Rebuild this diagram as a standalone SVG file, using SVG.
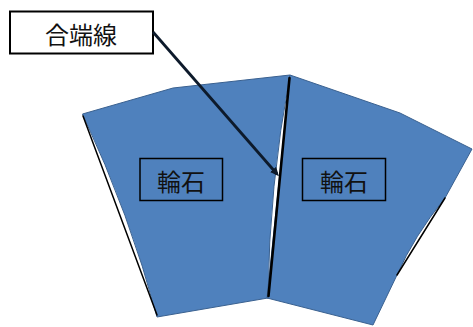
<svg xmlns="http://www.w3.org/2000/svg" width="473" height="327" viewBox="0 0 473 327">
  <defs>
    <style>
      .stone { fill: #4f81bd; stroke: #3a6190; stroke-width: 1; stroke-linejoin: round; }
      .joint { stroke: #000; fill: none; stroke-linecap: round; }
      .tag { fill: none; stroke: #000; stroke-width: 1.5; }
      .callout { fill: #fff; stroke: #000; stroke-width: 2; }
      .txt { font-family: "Noto Sans CJK JP", sans-serif; font-size: 24px; fill: #111; text-anchor: middle; dominant-baseline: central; }
      .lead { stroke: #0d1a2b; stroke-width: 2.8; fill: none; }
    </style>
    <marker id="arrow" markerWidth="9" markerHeight="8" refX="6" refY="4" orient="auto" markerUnits="userSpaceOnUse">
      <path d="M0,0 L9,4 L0,8 Z" fill="#0d1a2b"/>
    </marker>
  </defs>

  <!-- left voussoir -->
  <g id="stone-left">
    <path class="stone" d="M82.5,114 L173,88 L290,75 Q269,186 268,298 L157,317 Q130,215 82.5,114 Z"/>
    <line class="joint" x1="83" y1="116" x2="157" y2="315" stroke-width="1.5"/>
    <rect class="tag" x="140" y="158.5" width="82.5" height="42"/>
    <text class="txt" x="181" y="180">輪石</text>
  </g>

  <!-- right voussoir -->
  <g id="stone-right">
    <path class="stone" d="M290,75 L400,113 L472,149 L445,198 Q414,236 397,275 L373,325 L267,298 Z"/>
    <line class="joint" x1="445" y1="198" x2="397" y2="275" stroke-width="1.5"/>
    <rect class="tag" x="302.5" y="158.5" width="83" height="42"/>
    <text class="txt" x="344" y="180">輪石</text>
  </g>

  <!-- joint line between the stones -->
  <g id="joint">
    <line class="joint" x1="289.5" y1="78" x2="268.5" y2="296" stroke-width="2.6"/>
  </g>

  <!-- callout label -->
  <g id="label">
    <rect class="callout" x="10" y="11.5" width="143" height="42"/>
    <text class="txt" x="81" y="33">合端線</text>
  </g>

  <!-- leader -->
  <g id="connectors">
    <line class="lead" x1="153" y1="32" x2="277" y2="174" marker-end="url(#arrow)"/>
  </g>
</svg>
